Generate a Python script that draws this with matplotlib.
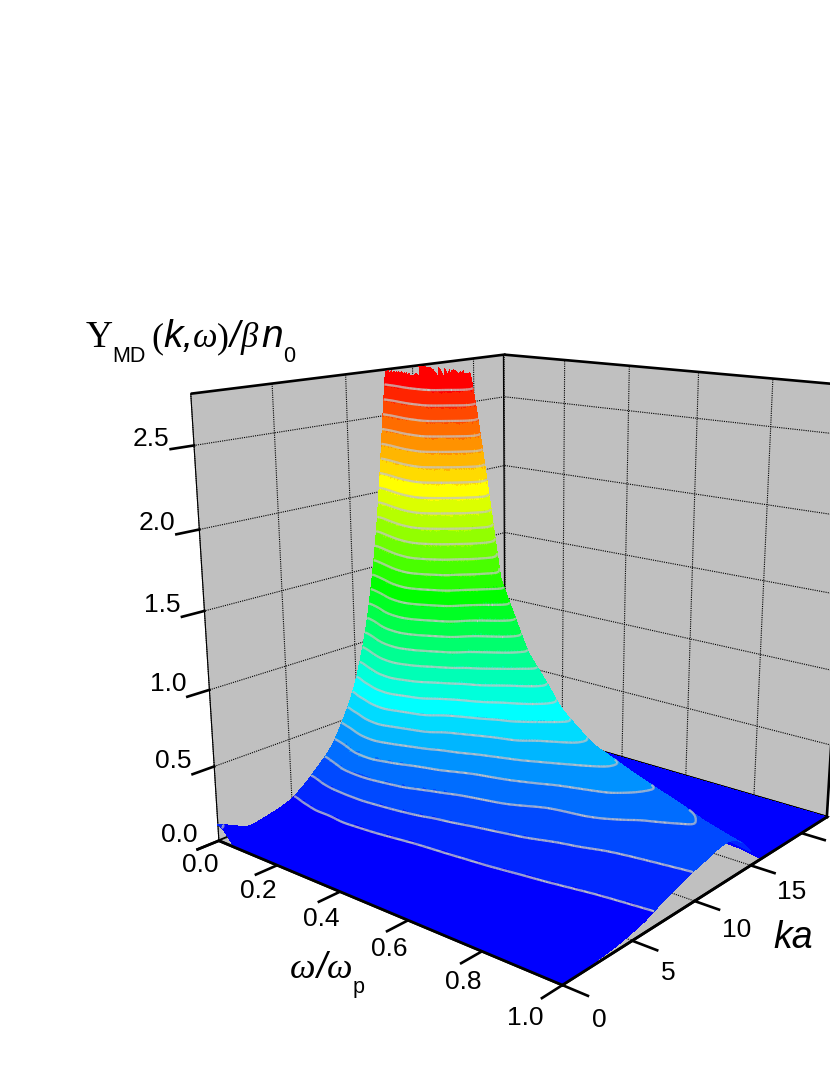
import numpy as np, matplotlib
matplotlib.use('Agg')
import matplotlib.pyplot as plt
import matplotlib.tri as mtri
from matplotlib.colors import LinearSegmentedColormap, BoundaryNorm
from mpl_toolkits.mplot3d.art3d import Line3DCollection

# ---------- data ----------
omega_nodes = [0, .02, .05, .1, .15, .2, .3, .4, .5, .6, .7, .8, .9, 1.0]
ka_nodes = [0, 2, 4, 5, 6, 7, 8, 9, 10, 11, 12, 13, 14, 15, 15.5, 16, 16.5, 17, 19, 22.7]
y_w0   = [.12, .01, .05, .08, .15, .24, .33, .50, .72, 1.10, 1.75, 2.90, 3.6, 4.0, 3.2, .60, .05, 0, 0, 0]
y_w02  = [.10, .01, .05, .09, .16, .25, .35, .54, .78, 1.18, 1.85, 2.95, 3.6, 4.0, 3.2, .60, .05, 0, 0, 0]
y_w05  = [0, .01, .06, .10, .18, .27, .38, .58, .88, 1.30, 2.05, 3.00, 3.6, 4.0, 3.2, .60, .05, 0, 0, 0]
y_w10  = [0, .01, .06, .12, .20, .31, .45, .68, 1.05, 1.55, 2.30, 3.10, 3.6, 3.7, 3.0, .60, .05, 0, 0, 0]
y_w15  = [0, .01, .06, .12, .21, .32, .47, .72, 1.10, 1.65, 2.35, 3.00, 3.3, 3.2, 2.6, .50, .04, 0, 0, 0]
y_w20  = [0, .01, .07, .13, .21, .31, .42, .62, .95, 1.40, 1.90, 2.40, 2.95, 2.8, 1.8, .30, .03, 0, 0, 0]
y_w30  = [0, .005, .06, .12, .19, .27, .34, .45, .60, .85, 1.10, 1.42, 1.65, 1.2, .60, .12, .01, 0, 0, 0]
y_w40  = [0, .005, .04, .10, .16, .22, .28, .35, .47, .60, .78, .95, 1.10, .70, .30, .08, .01, 0, 0, 0]
y_w50  = [0, .005, .03, .09, .14, .19, .24, .31, .39, .49, .58, .70, .76, .50, .22, .05, 0, 0, 0, 0]
y_w60  = [0, .008, .03, .08, .125, .17, .21, .26, .30, .39, .48, .55, .56, .38, .16, .04, 0, 0, 0, 0]
y_w70  = [0, .01, .03, .065, .11, .15, .18, .22, .28, .33, .41, .46, .46, .30, .13, .03, 0, 0, 0, 0]
y_w80  = [0, .012, .03, .055, .095, .13, .16, .19, .24, .27, .31, .35, .37, .24, .11, .03, 0, 0, 0, 0]
y_w90  = [0, .012, .03, .05, .08, .12, .15, .18, .21, .24, .27, .30, .27, .16, .09, .02, 0, 0, 0, 0]
y_w100 = [0, .012, .03, .05, .07, .11, .14, .17, .20, .22, .245, .25, .20, .08, .03, 0, 0, 0, 0, 0]
rows = [y_w0, y_w02, y_w05, y_w10, y_w15, y_w20, y_w30, y_w40, y_w50, y_w60, y_w70, y_w80, y_w90, y_w100]
omega_ticks = [0, .2, .4, .6, .8, 1.0]
ka_ticks = [0, 5, 10, 15, 20]
ka_tick_labels = ['0', '5', '10', '15', '']
z_ticks = [0, .5, 1, 1.5, 2, 2.5]
KA_MAX, Z_TOP = 22.69, 2.80

plt.rcParams['font.family'] = ['Liberation Sans', 'DejaVu Sans']
fig = plt.figure(figsize=(8.3, 10.75), dpi=100)
W_PX = 760.1
ax = fig.add_axes([138.2/830, 66.2/1075, W_PX/830, W_PX/1075], projection='3d', computed_zorder=False)
ax.patch.set_alpha(0)
ax.view_init(elev=16.07, azim=-50.25)
ax.set_proj_type('persp', focal_length=0.3605)
ax.set_box_aspect((1, 1.0049, 1.0158))
ax.set_xlim(0, 1, view_margin=0)
ax.set_ylim(0, KA_MAX, view_margin=0)
ax.set_zlim(0, Z_TOP, view_margin=0)

# walls
for a in (ax.xaxis, ax.yaxis, ax.zaxis):
    a.set_pane_color((192/255, 192/255, 192/255, 1))
    a.pane.set_edgecolor('black')
    a.pane.set_linewidth(1.9)
    a._axinfo['grid'].update(color='black', linewidth=0.8, linestyle=(0, (1, 1)))
    a._axinfo['axisline']['color'] = 'black'
    a._axinfo['axisline']['linewidth'] = 2.0
    a._axinfo['tick'].update(inward_factor=0.75, outward_factor=0, color='black')
    a._axinfo['tick']['linewidth'] = {True: 1.9, False: 1.0}
ax.zaxis.set_ticks_position('lower')
ax.set_xticks(omega_ticks)
ax.set_xticklabels(['%.1f' % v for v in omega_ticks], va='baseline')
ax.get_xticklabels()[-1].set_ha('right')
ax.set_yticks(ka_ticks)
ax.set_yticklabels(ka_tick_labels, va='bottom', ha='left')
ax.set_zticks(z_ticks)
ax.set_zticklabels(['%.1f' % v for v in z_ticks], va='baseline')
ax.tick_params(axis='x', labelsize=19, pad=8)
ax.tick_params(axis='y', labelsize=19, pad=12)
ax.tick_params(axis='z', labelsize=19, pad=10)
ax.minorticks_off()

# surface: the table, resampled with matplotlib's triangulation and lightly smoothed for the bands
om_n = np.array(omega_nodes, float)
ka_n = np.array(ka_nodes, float)
table = np.array(rows, float)
GW, GK = np.meshgrid(om_n, ka_n, indexing='ij')
tri = mtri.Triangulation(GW.ravel(), GK.ravel() / KA_MAX)
interp = mtri.LinearTriInterpolator(tri, table.ravel())
om_u = np.linspace(0, 1, 401)
ka_u = np.linspace(0, KA_MAX, 908)
UW, UK = np.meshgrid(om_u, ka_u, indexing='ij')
UZ = np.clip(np.ma.filled(interp(UW, UK / KA_MAX), 0.0), 0, None)

def smooth(a, n, axis):
    pad = [(0, 0), (0, 0)]
    pad[axis] = (n, n)
    b = np.pad(a, pad, mode='edge')
    kern = np.ones(2*n+1) / (2*n+1)
    return np.apply_along_axis(lambda v: np.convolve(v, kern, mode='valid'), axis, b)

for _ in range(2):
    UZ = smooth(UZ, 5, 0)
    UZ = smooth(UZ, 12, 1)

i_w = np.r_[np.arange(0, 120), np.arange(120, 401, 2)]
i_k = np.r_[np.arange(0, 320, 8), np.arange(320, 740, 1), np.arange(740, 908, 12), 907]
FW, FK, FZ = UW[np.ix_(i_w, i_k)], UK[np.ix_(i_w, i_k)], UZ[np.ix_(i_w, i_k)]
dzw, dzk = np.gradient(UZ, om_u, ka_u)

step = Z_TOP / 29
bounds = np.arange(30) * step
cmap = LinearSegmentedColormap.from_list('rb', ['#0000ff', '#00ffff', '#00ff00', '#ffff00', '#ff0000'], N=29)
norm = BoundaryNorm(bounds, 29, clip=True)
ZS = np.where(FZ > Z_TOP, np.nan, FZ)
ax.plot_surface(FW, FK, ZS, rstride=1, cstride=1, cmap=cmap, norm=norm, shade=False,
                linewidth=0, antialiased=False, zorder=5)

# contour lines: only the parts that face the viewer
box = np.asarray(ax._box_aspect)
el, az = np.radians(16.07), np.radians(-50.25)
eye = 0.5 * box + 10 * 0.3605 * np.array([np.cos(el)*np.cos(az), np.cos(el)*np.sin(az), np.sin(el)])
tmp = plt.figure()
cs = tmp.add_subplot().contour(UW, UK, np.where(UZ > Z_TOP, np.nan, UZ), levels=bounds[1:29])
segs3 = []
for lev, group in zip(cs.levels, cs.allsegs):
    for seg in group:
        if len(seg) < 2:
            continue
        iw = np.clip(np.searchsorted(om_u, seg[:, 0]), 0, len(om_u)-1)
        ik = np.clip(np.searchsorted(ka_u, seg[:, 1]), 0, len(ka_u)-1)
        gu = dzw[iw, ik] * (box[2]/Z_TOP) / box[0]
        gv = dzk[iw, ik] * KA_MAX * (box[2]/Z_TOP) / box[1]
        p = np.c_[seg[:, 0]*box[0], seg[:, 1]/KA_MAX*box[1], np.full(len(seg), lev)/Z_TOP*box[2]]
        d = eye - p
        vis = (-gu*d[:, 0] - gv*d[:, 1] + d[:, 2]) > 0
        for i in range(len(seg)-1):
            if vis[i] and vis[i+1]:
                segs3.append([(seg[i, 0], seg[i, 1], lev), (seg[i+1, 0], seg[i+1, 1], lev)])
plt.close(tmp)
ax.add_collection3d(Line3DCollection(segs3, colors='#c6c6c6', linewidths=1.6, zorder=6))
ax.plot([0, 1], [0, 0], [0, 0], color='black', lw=2.0, zorder=7)
ax.plot([1, 1], [0, KA_MAX], [0, 0], color='black', lw=2.0, zorder=7)

# titles made of pieces
def put(x, y, s, size, fam='Liberation Sans', style='normal'):
    fig.text(x/830, 1-y/1075, s, fontsize=size, family=fam, style=style, va='baseline', ha='left')
put(86, 347, 'Y', 27, 'Liberation Serif')
put(112, 362, 'MD', 15.5)
put(151, 347, '(', 26, 'Liberation Serif')
put(163, 347, 'k,', 28, style='italic')
put(193, 347, '\u03c9', 25, 'Liberation Serif', 'italic')
put(217, 347, ')', 26, 'Liberation Serif')
put(229, 347, '/', 26, style='italic')
put(241, 347, '\u03b2', 25, 'Liberation Serif', 'italic')
put(261, 347, 'n', 28, style='italic')
put(283, 362, '0', 15.5)
put(290, 978, '\u03c9', 26, 'Liberation Serif', 'italic')
put(316, 978, '/', 26, style='italic')
put(327, 978, '\u03c9', 26, 'Liberation Serif', 'italic')
put(353, 993, 'p', 15.5)
put(773, 948, 'ka', 27, style='italic')
fig.savefig('out.png', dpi=100)
